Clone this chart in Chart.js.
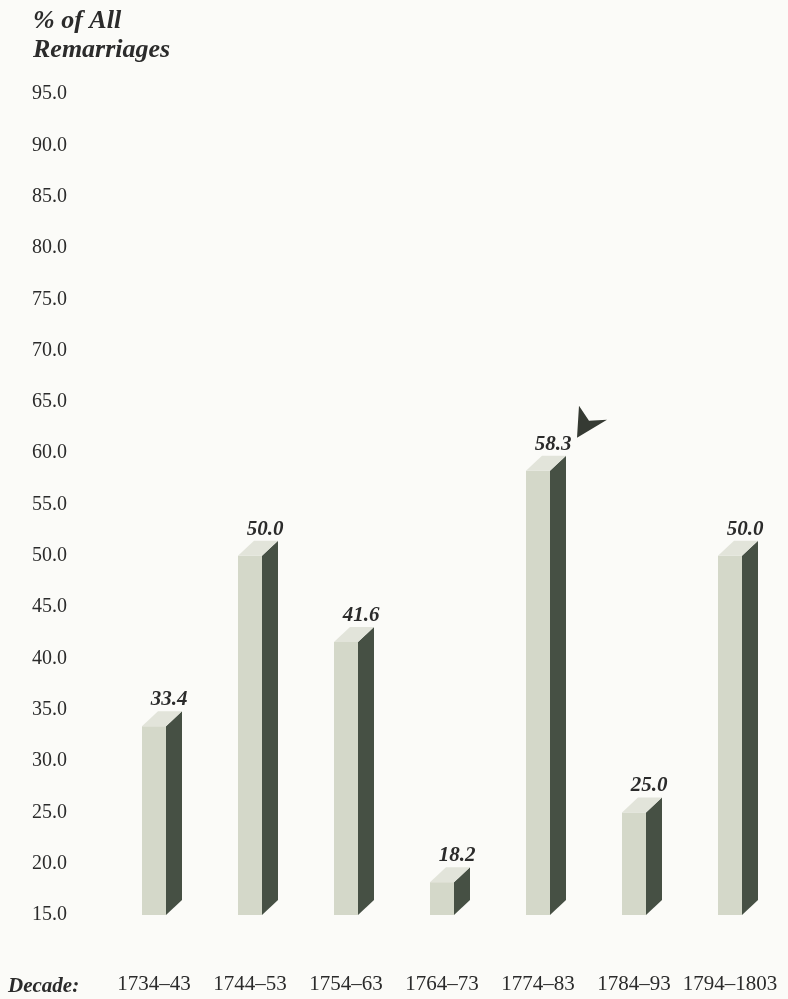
<!DOCTYPE html>
<html>
<head>
<meta charset="utf-8">
<script src="https://cdn.jsdelivr.net/npm/chart.js@4.4.1/dist/chart.umd.min.js"></script>
<style>
  html, body { margin: 0; padding: 0; background: #fbfbf8; }
  #wrap { width: 788px; height: 999px; position: relative; }
</style>
</head>
<body>
<div id="wrap"><canvas id="c" width="788" height="999"></canvas></div>
<script>
// ---- data ----
const decades = ["1734\u201343", "1744\u201353", "1754\u201363", "1764\u201373", "1774\u201383", "1784\u201393", "1794\u20131803"];
const remarriagePct = [33.4, 50.0, 41.6, 18.2, 58.3, 25.0, 50.0];
const yTickMin = 15;
const yTickMax = 95;
const yTickStep = 5;
const highlightIndex = 4;
const yTitleLines = ["% of All", "Remarriages"];
const xTitle = "Decade:";

const FRONT = "#d4d8c9";
const SIDE = "#465044";
const TOP = "#e2e4da";
const INK = "#2b2b2b";
const SERIF = "'Liberation Serif', 'DejaVu Serif', serif";
const DX = 16, DY = 15;

const bar3d = {
  id: "bar3d",
  beforeDraw(chart) {
    const ctx = chart.ctx;
    ctx.save();
    ctx.fillStyle = "#fbfbf8";
    ctx.fillRect(0, 0, chart.width, chart.height);
    ctx.restore();
  },
  afterDatasetsDraw(chart) {
    const ctx = chart.ctx;
    const meta = chart.getDatasetMeta(0);
    ctx.save();
    meta.data.forEach((bar, i) => {
      const p = bar.getProps(["x", "y", "base", "width"], true);
      const l = p.x - p.width / 2, r = p.x + p.width / 2;
      // side face
      ctx.fillStyle = SIDE;
      ctx.beginPath();
      ctx.moveTo(r, p.y);
      ctx.lineTo(r + DX, p.y - DY);
      ctx.lineTo(r + DX, p.base - DY);
      ctx.lineTo(r, p.base);
      ctx.closePath();
      ctx.fill();
      // top face
      ctx.fillStyle = TOP;
      ctx.beginPath();
      ctx.moveTo(l, p.y);
      ctx.lineTo(l + DX, p.y - DY);
      ctx.lineTo(r + DX, p.y - DY);
      ctx.lineTo(r, p.y);
      ctx.closePath();
      ctx.fill();
      // value label
      ctx.fillStyle = INK;
      ctx.font = "bold italic 21px " + SERIF;
      ctx.textAlign = "center";
      ctx.textBaseline = "alphabetic";
      ctx.fillText(remarriagePct[i].toFixed(1), p.x + 15, p.y - DY - 6);
      // highlight arrow
      if (i === highlightIndex) {
        ctx.fillStyle = "#353a33";
        ctx.beginPath();
        ctx.moveTo(r + 27, p.y - 33);
        ctx.lineTo(r + 29, p.y - 65);
        ctx.lineTo(r + 39, p.y - 50);
        ctx.lineTo(r + 57, p.y - 51);
        ctx.closePath();
        ctx.fill();
      }
    });
    // axis titles
    ctx.fillStyle = INK;
    ctx.textAlign = "left";
    ctx.textBaseline = "alphabetic";
    ctx.font = "bold italic 26px " + SERIF;
    ctx.fillText(yTitleLines[0], 33, 28);
    ctx.fillText(yTitleLines[1], 33, 57);
    ctx.font = "bold italic 21px " + SERIF;
    ctx.fillText(xTitle, 8, 992);
    ctx.restore();
  }
};

new Chart(document.getElementById("c"), {
  type: "bar",
  data: {
    labels: decades,
    datasets: [{
      data: remarriagePct,
      base: yTickMin,
      backgroundColor: FRONT,
      borderWidth: 0,
      barPercentage: 0.25,
      categoryPercentage: 1.0
    }]
  },
  options: {
    responsive: false,
    animation: false,
    devicePixelRatio: 1,
    layout: { padding: { left: 32, right: 10, top: 94, bottom: 0 } },
    plugins: { legend: { display: false }, tooltip: { enabled: false } },
    scales: {
      x: {
        grid: { display: false, drawTicks: false },
        border: { display: false },
        ticks: {
          color: INK,
          font: { family: SERIF, size: 21 },
          padding: 57,
          maxRotation: 0,
          autoSkip: false
        },
        afterFit(s) { s.height = 84; s.paddingLeft = 0; s.paddingRight = 0; }
      },
      y: {
        min: yTickMin,
        max: yTickMax,
        grid: { display: false, drawTicks: false },
        border: { display: false },
        ticks: {
          stepSize: yTickStep,
          color: INK,
          font: { family: SERIF, size: 20 },
          crossAlign: "far",
          callback: (v) => Number(v).toFixed(1)
        },
        afterFit(s) { s.width = 74; s.paddingTop = 0; s.paddingBottom = 0; }
      }
    }
  },
  plugins: [bar3d]
});
</script>
</body>
</html>
